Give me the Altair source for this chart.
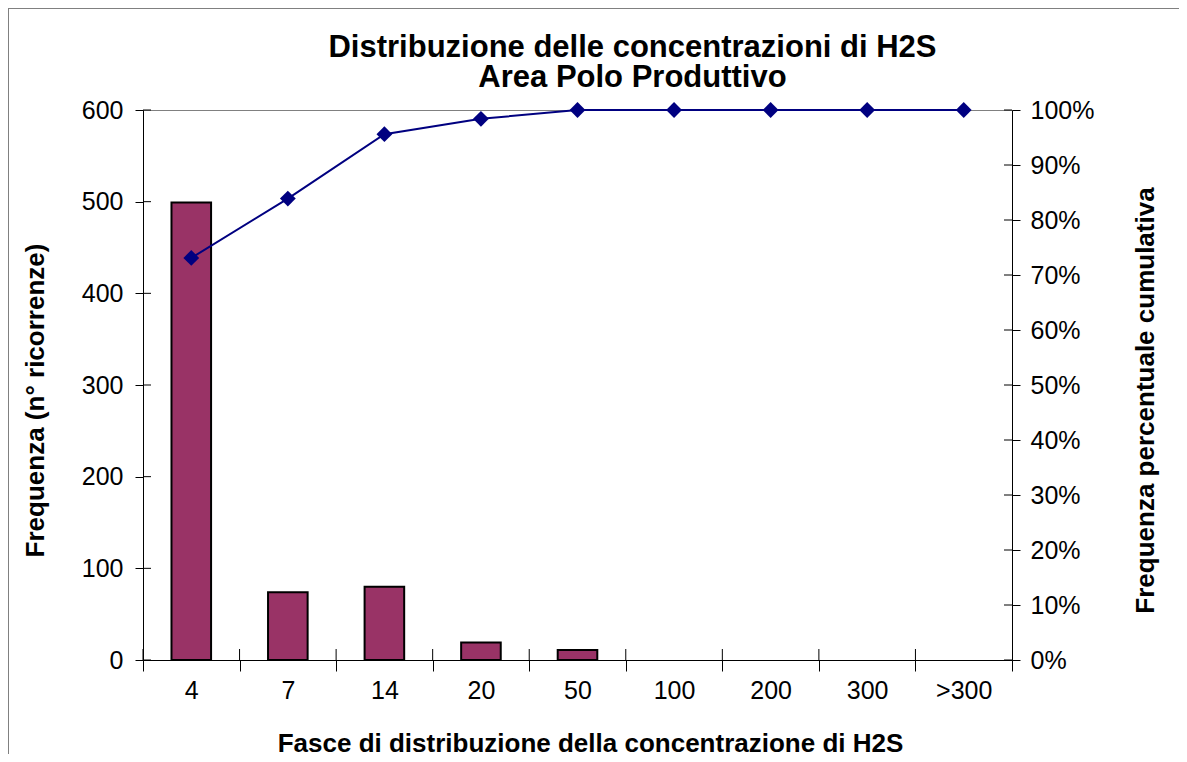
import altair as alt
import pandas as pd

# Data
cats = ["4", "7", "14", "20", "50", "100", "200", "300", ">300"]
freq = [499, 74, 80, 19, 11, 0, 0, 0, 0]
cum_pct = [0.731, 0.839, 0.956, 0.984, 1.0, 1.0, 1.0, 1.0, 1.0]
left_ticks = [0, 100, 200, 300, 400, 500, 600]
right_ticks = [0, 0.1, 0.2, 0.3, 0.4, 0.5, 0.6, 0.7, 0.8, 0.9, 1.0]

FONT = "Liberation Sans"
W, H = 869, 550

df = pd.DataFrame({"fascia": cats, "freq": freq, "cum": cum_pct})
left_df = pd.DataFrame({"freq": left_ticks})
right_df = pd.DataFrame({"cum": right_ticks})
one = pd.DataFrame({"k": [0]})

x_scale = alt.Scale(domain=cats, paddingInner=0, paddingOuter=0)
x_axis = alt.Axis(
    title="Fasce di distribuzione della concentrazione di H2S",
    labelAngle=0, tickBand="extent", tickSize=11, labelPadding=7,
    titleX=447, titleY=91, titleBaseline="alphabetic", titleAlign="center",
)
y_left_scale = alt.Scale(domain=[0, 600])
y_left_axis = alt.Axis(
    values=left_ticks, tickSize=8, labelPadding=12,
    title="Frequenza (n° ricorrenze)", titleAngle=270, titleBaseline="middle",
    titleAlign="center", titleX=-108, titleY=290,
)
y_right_scale = alt.Scale(domain=[0, 1])
y_right_axis = alt.Axis(
    orient="right", values=right_ticks, format=".0%", tickSize=8, labelPadding=10,
    title="Frequenza percentuale cumulativa", titleAngle=270, titleBaseline="middle",
    titleAlign="center", titleX=133, titleY=290,
)

# outer chart frame (top and left edges visible in the reference)
frame_top = alt.Chart(one).mark_rule(color="#808080", strokeWidth=2).encode(
    x=alt.value(-135), x2=alt.value(1100), y=alt.value(-102)
)
frame_left = alt.Chart(one).mark_rule(color="#808080", strokeWidth=2).encode(
    x=alt.value(-135), y=alt.value(-102), y2=alt.value(700)
)

bars = alt.Chart(df).transform_filter("datum.freq > 0").mark_bar(
    color="#993366", stroke="black", strokeWidth=2, width=alt.RelativeBandSize(0.41)
).encode(
    x=alt.X("fascia:N", scale=x_scale, axis=x_axis),
    y=alt.Y("freq:Q", scale=y_left_scale, axis=y_left_axis),
)

x_inner = alt.Chart(df).mark_rule(color="black", strokeWidth=1).encode(
    x=alt.X("fascia:N", bandPosition=0, scale=x_scale, axis=x_axis),
    y=alt.value(H - 11), y2=alt.value(H),
)

left_inner = alt.Chart(left_df).mark_rule(color="black", strokeWidth=1).encode(
    x=alt.value(0), x2=alt.value(8),
    y=alt.Y("freq:Q", scale=y_left_scale, axis=y_left_axis),
)

line = alt.Chart(df).mark_line(color="#000080", strokeWidth=2).encode(
    x=alt.X("fascia:N", scale=x_scale, axis=x_axis),
    y=alt.Y("cum:Q", scale=y_right_scale, axis=y_right_axis),
)
points = alt.Chart(df).mark_point(
    shape="diamond", filled=True, color="#000080", size=250, opacity=1
).encode(
    x=alt.X("fascia:N", scale=x_scale, axis=x_axis),
    y=alt.Y("cum:Q", scale=y_right_scale, axis=y_right_axis),
)
right_inner = alt.Chart(right_df).mark_rule(color="black", strokeWidth=1).encode(
    x=alt.value(W - 8), x2=alt.value(W),
    y=alt.Y("cum:Q", scale=y_right_scale, axis=y_right_axis),
)

left = alt.layer(frame_top, frame_left, bars, x_inner, left_inner)
right = alt.layer(line, points, right_inner)

chart = (
    alt.layer(left, right)
    .resolve_scale(y="independent")
    .properties(
        width=W, height=H,
        padding={"left": 135, "top": 102, "right": 167, "bottom": 94},
        autosize=alt.AutoSizeParams(type="none"),
        title=alt.TitleParams(
            text=["Distribuzione delle concentrazioni di H2S", "Area Polo Produttivo"],
            font=FONT, fontSize=31, fontWeight="bold", color="black",
            anchor="middle", dx=55, dy=93, offset=6, lineHeight=30,
        ),
        background="white",
    )
    .configure_axis(
        labelFont=FONT, labelFontSize=25, labelColor="black",
        titleFont=FONT, titleFontSize=26, titleFontWeight="bold", titleColor="black",
        domainColor="black", tickColor="black", domainWidth=1, tickWidth=1, grid=False,
    )
    .configure_view(stroke="#808080", strokeWidth=1)
)

chart.save("out.html", embed_options={"renderer": "svg", "actions": False})
